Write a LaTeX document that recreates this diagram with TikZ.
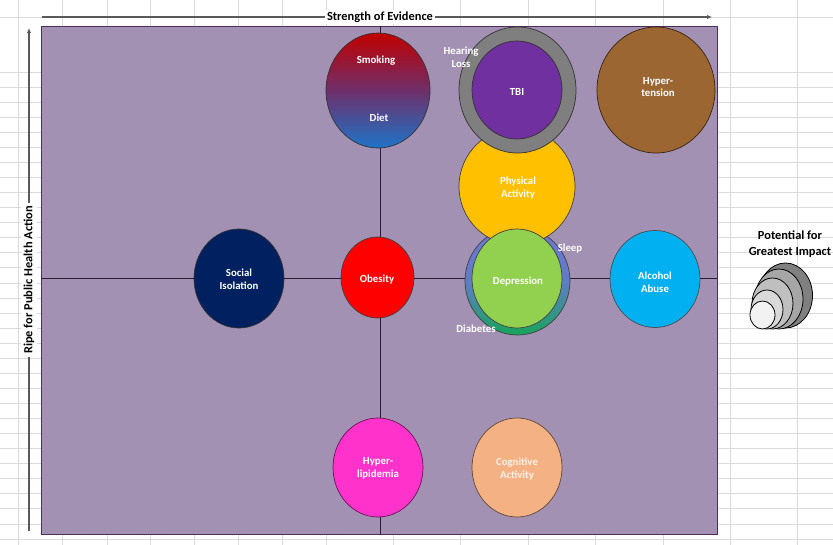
\documentclass[tikz,border=0pt]{standalone}
\usepackage{fontspec}
\setmainfont{Carlito}
\usetikzlibrary{shapes.geometric,arrows.meta}
\definecolor{bgpurple}{HTML}{A391B4}
\definecolor{rectborder}{HTML}{4B2E5E}
\definecolor{axisdark}{HTML}{2B1B33}
\definecolor{gridgray}{HTML}{DADADA}
\definecolor{arrowgray}{HTML}{595959}
\definecolor{smkred}{HTML}{C00000}
\definecolor{smkmid}{HTML}{6E2F6A}
\definecolor{dietblue}{HTML}{1F74C8}
\definecolor{hearinggray}{HTML}{7F7F7F}
\definecolor{tbipurple}{HTML}{7030A0}
\definecolor{hyperbrown}{HTML}{9B6631}
\definecolor{physyellow}{HTML}{FFC000}
\definecolor{sleepblue}{HTML}{6F78D6}
\definecolor{ringmid}{HTML}{5F7CC8}
\definecolor{diabgreen}{HTML}{17A55A}
\definecolor{depgreen}{HTML}{92D050}
\definecolor{socialnavy}{HTML}{002060}
\definecolor{obesred}{HTML}{FF0000}
\definecolor{alcblue}{HTML}{00B0F0}
\definecolor{lipidpink}{HTML}{FF33CC}
\definecolor{cogpeach}{HTML}{F4B183}
\definecolor{cogtext}{HTML}{FDF1E8}
\definecolor{lgA}{HTML}{808080}
\definecolor{lgB}{HTML}{A6A6A6}
\definecolor{lgC}{HTML}{BFBFBF}
\definecolor{lgD}{HTML}{D9D9D9}
\definecolor{lgE}{HTML}{F2F2F2}
\tikzset{
  blob/.style={ellipse, inner sep=0pt, outer sep=0pt, line width=0.7pt},
  sz/.style 2 args={minimum width=#1pt, minimum height=#2pt},
  lbl/.style={font=\bfseries\fontsize{10.8}{12.8}\selectfont, text=white, align=center, inner sep=0pt},
  ttl/.style={font=\bfseries\fontsize{12.4}{16}\selectfont, text=black, align=center},
  axisline/.style={draw=axisdark, line width=0.8pt},
  arr/.style={draw=arrowgray, line width=1.2pt, -{Latex[length=5pt,width=4.5pt]}},
  legendblob/.style={ellipse, inner sep=0pt, draw=black, line width=0.8pt}
}
\begin{document}
\begin{tikzpicture}[x=1pt,y=-1pt]
\useasboundingbox (0,0) rectangle (833,545);
\fill[white] (0,0) rectangle (833,545);
% spreadsheet grid
\foreach \gx in {18,62,107,150,194,238,282,326,393,460,528,595,663,730,797}
  \draw[gridgray, line width=0.6pt] (\gx,0) -- (\gx,545);
\draw[gridgray, line width=0.6pt] (0,17) -- (833,17);
\foreach \k in {0,...,31}
  \draw[gridgray, line width=0.6pt] (0,72+15.06*\k) -- (833,72+15.06*\k);
% plot area
\node[draw=rectborder, fill=bgpurple, line width=0.8pt, inner sep=0pt, minimum width=676pt, minimum height=508pt, anchor=north west] (area) at (41,26) {};
% axes
\coordinate (xl) at (41,278);
\coordinate (xr) at (717,278);
\coordinate (yt) at (380,26);
\coordinate (yb) at (380,534);
\draw[axisline] (xl) -- (xr);
\draw[axisline] (yt) -- (yb);
% outer arrows
\coordinate (ha) at (42,17);
\coordinate (hb) at (712,17);
\draw[arr] (ha) -- (hb);
\node[ttl, fill=white, inner sep=2pt] (strength) at (380,17) {Strength of Evidence};
\coordinate (va) at (29,531);
\coordinate (vb) at (29,28);
\draw[arr] (va) -- (vb);
\node[ttl, fill=white, inner sep=3pt, rotate=90] (ripe) at (29,280) {Ripe for Public Health Action};
% circles
\node[blob, sz={104}{115}, draw=black!80, top color=smkred, bottom color=dietblue, middle color=smkmid] (smoking) at (378,90.5) {};
\node[blob, sz={90}{99}, draw=black!80, fill=socialnavy] (social) at (239,278.5) {};
\node[blob, sz={73}{81}, draw=black!75, fill=obesred] (obesity) at (377.5,277.5) {};
\node[blob, sz={90}{97}, draw=black!70, fill=alcblue] (alcohol) at (655,279) {};
\node[blob, sz={90}{99}, draw=lipidpink!40!black, fill=lipidpink] (lipid) at (378,467.5) {};
\node[blob, sz={90}{99}, draw=cogpeach!40!black, fill=cogpeach] (cog) at (517,467.5) {};
\node[blob, sz={118}{126}, draw=hyperbrown!35!black, fill=hyperbrown] (hyper) at (656,90) {};
\node[blob, sz={105}{108}, draw=black!75, top color=sleepblue, bottom color=diabgreen, middle color=ringmid] (sleep) at (517.5,281) {};
\node[blob, sz={116}{117}, draw=black!75, fill=physyellow] (phys) at (517,186.5) {};
\node[blob, sz={90}{99}, draw=black!75, fill=depgreen] (dep) at (517,278.5) {};
\node[blob, sz={117}{126}, draw=black!80, fill=hearinggray] (hearing) at (517.5,90) {};
\node[blob, sz={90}{98}, draw=black!80, fill=tbipurple] (tbi) at (517,90) {};
% labels
\node[lbl] (smokingtxt) at (376,61) {Smoking};
\node[lbl] (diettxt) at (379,118) {Diet};
\node[lbl] (hearingtxt) at (461,57) {Hearing\\Loss};
\node[lbl] (tbitxt) at (517,92) {TBI};
\node[lbl] (hypertxt) at (658,87) {Hyper-\\tension};
\node[lbl] (phystxt) at (518,188) {Physical\\Activity};
\node[lbl] (socialtxt) at (239,279) {Social\\Isolation};
\node[lbl] (obesitytxt) at (377,280) {Obesity};
\node[lbl] (deptxt) at (518,282) {Depression};
\node[lbl] (sleeptxt) at (570,249) {Sleep};
\node[lbl] (diabtxt) at (476,329) {Diabetes};
\node[lbl] (alcoholtxt) at (655,282) {Alcohol\\Abuse};
\node[lbl] (lipidtxt) at (378,468) {Hyper-\\lipidemia};
\node[lbl, text=cogtext] (cogtxt) at (517,469) {Cognitive\\Activity};
% legend
\node[ttl, inner sep=0pt] (legendtxt) at (790,244) {Potential for\\Greatest Impact};
\node[legendblob, sz={54}{65}, fill=lgA] (lg5) at (785.5,295.5) {};
\node[legendblob, sz={48}{60}, fill=lgB] (lg4) at (779,299) {};
\node[legendblob, sz={41}{51}, fill=lgC] (lg3) at (772.5,303.5) {};
\node[legendblob, sz={32}{39}, fill=lgD] (lg2) at (767,309.5) {};
\node[legendblob, sz={25}{28}, fill=lgE] (lg1) at (762.5,315) {};
\end{tikzpicture}
\end{document}
